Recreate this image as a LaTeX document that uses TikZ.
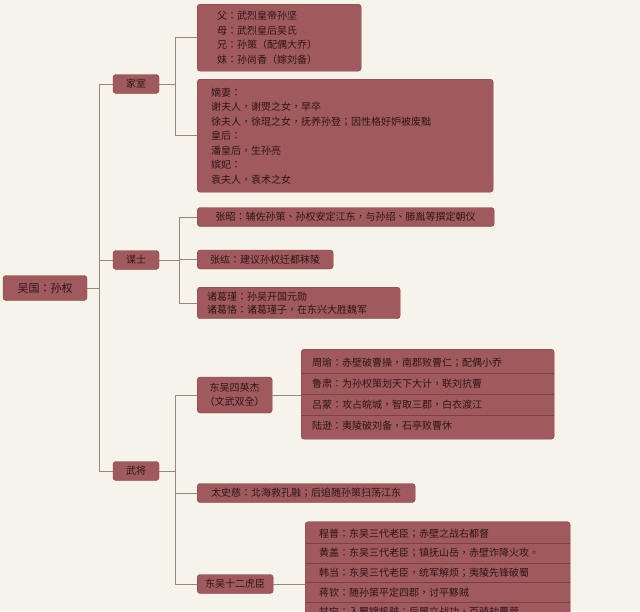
\documentclass[tikz,border=0pt]{standalone}
\usepackage{fontspec}
\setmainfont{Noto Sans CJK TC}
\usepackage{xcolor}
\definecolor{wupaper}{HTML}{F6F3EA}
\definecolor{wubox}{HTML}{A05A5E}
\definecolor{wuedge}{HTML}{7C4046}
\definecolor{wuink}{HTML}{2E1518}
\definecolor{wuline}{HTML}{9A8579}
\usepackage{tikz}
\usetikzlibrary{positioning,calc}

\begin{document}
\begin{tikzpicture}[x=1pt,y=-1pt,font=\fontsize{10}{14.5}\selectfont,
  t/.style={rectangle,rounded corners=3pt,draw=wuedge,fill=wubox,text=wuink,inner xsep=6pt,inner ysep=2pt,minimum height=19pt},
  cat/.style={t,minimum width=46pt},
  lf/.style={t,anchor=west},
  nt/.style={t,anchor=north west,align=left},
  rw/.style={rectangle,anchor=north west,text=wuink,align=left,inner ysep=0pt,outer sep=0pt},
  ry/.style={rw,inner xsep=11pt,text width=231pt,minimum height=21pt},
  rh/.style={rw,inner xsep=14pt,text width=237pt,minimum height=19.5pt},
  lnk/.style={draw=wuline,line width=0.9pt},
  sep/.style={draw=wuedge,line width=0.8pt}]
\useasboundingbox (0,0) rectangle (640,611);
\clip (0,0) rectangle (640,611);
\fill[wupaper] (0,0) rectangle (640,611);
% root and the three branches
\node[t,minimum width=84pt,minimum height=25pt,font=\fontsize{11}{13}\selectfont] (root) at (45,288) {吴国：孙权};
\node[cat] (jia) at (136,84) {家室};
\node[cat] (mou) at (136,260) {谋士};
\node[cat] (wu) at (136,471) {武将};
\coordinate (b0) at (99,288);
\draw[lnk] (root) -- (b0);
\draw[lnk] (b0) |- (jia); \draw[lnk] (b0) |- (mou); \draw[lnk] (b0) |- (wu);
% 家室
\node[nt,inner xsep=20pt,text width=124pt,minimum height=67pt] (fam) at (197,4) {父：武烈皇帝孙坚\\母：武烈皇后吴氏\\兄：孙策（配偶大乔）\\妹：孙尚香（嫁刘备）};
\node[nt,inner xsep=14pt,text width=268pt,minimum height=113pt] (wives) at (197,79) {嫡妻：\\谢夫人，谢煚之女，早卒\\徐夫人，徐琨之女，抚养孙登；因性格好妒被废黜\\皇后：\\潘皇后，生孙亮\\嫔妃：\\袁夫人，袁术之女};
\coordinate (b1) at (175,84);
\draw[lnk] (jia) -- (b1);
\draw[lnk] (b1) |- (fam); \draw[lnk] (b1) |- (wives);
% 谋士
\node[lf,minimum width=297pt] (zz) at (197,217) {张昭：辅佐孙策、孙权安定江东，与孙绍、滕胤等撰定朝仪};
\node[lf,minimum width=136pt] (zh) at (197,259.5) {张纮：建议孙权迁都秣陵};
\node[nt,font=\fontsize{10}{13}\selectfont,inner xsep=10pt,text width=183pt,minimum height=31.5pt] (zg) at (197,287) {诸葛瑾：孙吴开国元勋\\诸葛恪：诸葛瑾子，在东兴大胜魏军};
\coordinate (b2) at (179,260);
\draw[lnk] (mou) -- (b2);
\draw[lnk] (b2) |- (zz); \draw[lnk] (b2) |- (zh); \draw[lnk] (b2) |- (zg);
% 武将
\node[t,anchor=west,align=center,minimum width=75pt,minimum height=36pt,font=\fontsize{10}{14}\selectfont] (hero) at (197,395) {东吴四英杰\\（文武双全）};
\node[lf,minimum width=218pt] (tsc) at (197,493) {太史慈：北海救孔融；后追随孙策扫荡江东};
\node[lf,minimum width=76pt] (tiger) at (197,584) {东吴十二虎臣};
\coordinate (b3) at (175,471);
\draw[lnk] (wu) -- (b3);
\draw[lnk] (b3) |- (hero); \draw[lnk] (b3) |- (tsc); \draw[lnk] (b3) |- (tiger);
% 四英杰
\node[t,anchor=north west,minimum width=253pt,minimum height=90pt] (ying) at (301,349) {};
\node[ry] (y1) at (301,352) {周瑜：赤壁破曹操，南郡败曹仁；配偶小乔};
\node[ry,below=0pt of y1] (y2) {鲁肃：为孙权策划天下大计，联刘抗曹};
\node[ry,below=0pt of y2] (y3) {吕蒙：攻占皖城，智取三郡，白衣渡江};
\node[ry,below=0pt of y3] (y4) {陆逊：夷陵破刘备，石亭败曹休};
\draw[lnk] (hero) -- (hero -| ying.west);
% 十二虎臣
\node[t,anchor=north west,minimum width=265pt,minimum height=150pt] (hu) at (305,521.5) {};
\node[rh] (h1) at (305,524) {程普：东吴三代老臣；赤壁之战右都督};
\node[rh,below=0pt of h1] (h2) {黄盖：东吴三代老臣；镇抚山岳，赤壁诈降火攻。};
\node[rh,below=0pt of h2] (h3) {韩当：东吴三代老臣，统军解烦；夷陵先锋破蜀};
\node[rh,below=0pt of h3] (h4) {蒋钦：随孙策平定四郡，讨平黟贼};
\node[rh,below=0pt of h4] (h5) {甘宁：入蜀锦帆贼；后屡立战功，百骑劫曹营};
\draw[lnk] (tiger) -- (tiger -| hu.west);
\foreach \r in {y1,y2,y3,h1,h2,h3,h4} \draw[sep] (\r.south west) -- (\r.south east);
\end{tikzpicture}
\end{document}
